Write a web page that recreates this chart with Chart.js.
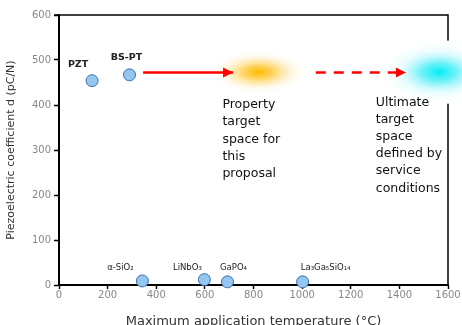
<!DOCTYPE html>
<html>
<head>
<meta charset="utf-8">
<script src="https://cdn.jsdelivr.net/npm/chart.js@4"></script>
<style>
  html, body { margin: 0; padding: 0; background: #fff; }
  #wrap { width: 462px; height: 325px; }
</style>
</head>
<body>
<div id="wrap"><canvas id="chart"></canvas></div>
<script>
// materials and their values
const materials = ['PZT', 'BS-PT', 'α-SiO₂', 'LiNbO₃', 'GaPO₄', 'La₃Ga₅SiO₁₄'];
const maxTemp = [136, 290, 343, 598, 693, 1002];
const piezoD = [454, 467, 9, 12, 7, 7];

const xTicks = [0, 200, 400, 600, 800, 1000, 1200, 1400, 1600];
const yTicks = [0, 100, 200, 300, 400, 500, 600];

// arrows and target blobs (data coords)
const arrowY = 472;
const solidArrowX = [346, 716];
const dashedArrowX = [1056, 1427];
const blobX = [821, 1563];
const blobY = [473, 473];

const proposalText = ['Property', 'target', 'space for', 'this', 'proposal'];
const proposalAt = [672, 400];
const ultimateText = ['Ultimate', 'target', 'space', 'defined by', 'service', 'conditions'];
const ultimateAt = [1303, 406];

// label offsets in px from each point
const labelOffsets = [[-14, -16], [-3, -17], [-22, -13], [-17, -12], [6, -14], [23, -14]];

const FONT = 'DejaVu Sans';

const extrasPlugin = {
  id: 'extras',
  beforeDatasetsDraw(chart) {
    const { ctx, chartArea: a, scales: { x, y } } = chart;
    ctx.save();
    // top and right frame
    ctx.strokeStyle = '#000';
    ctx.lineWidth = 1.5;
    ctx.beginPath();
    ctx.moveTo(a.left - 5, a.top);
    ctx.lineTo(a.right, a.top);
    ctx.lineTo(a.right, a.bottom);
    ctx.stroke();

    // glowing target blobs
    const blobs = [
      { rx: 50, ry: 22, c0: 'rgba(255,185,0,1)', c1: 'rgba(255,195,30,0.7)', c2: 'rgba(255,215,120,0.25)', white: false },
      { rx: 60, ry: 32, c0: 'rgba(0,238,245,1)', c1: 'rgba(40,235,245,0.65)', c2: 'rgba(170,245,250,0.25)', white: true }
    ];
    blobs.forEach((b, i) => {
      const cx = x.getPixelForValue(blobX[i]);
      const cy = y.getPixelForValue(blobY[i]);
      ctx.save();
      ctx.translate(cx, cy);
      ctx.scale(b.rx / b.ry, 1);
      if (b.white) {
        ctx.fillStyle = '#fff';
        ctx.beginPath();
        ctx.arc(0, 0, b.ry, 0, Math.PI * 2);
        ctx.fill();
      }
      const g = ctx.createRadialGradient(0, 0, 0, 0, 0, b.ry);
      g.addColorStop(0, b.c0);
      g.addColorStop(0.3, b.c1);
      g.addColorStop(0.65, b.c2);
      g.addColorStop(1, 'rgba(255,255,255,0)');
      ctx.fillStyle = g;
      ctx.beginPath();
      ctx.arc(0, 0, b.ry, 0, Math.PI * 2);
      ctx.fill();
      ctx.restore();
    });
    ctx.restore();
  },
  afterDatasetsDraw(chart) {
    const { ctx, scales: { x, y } } = chart;
    ctx.save();
    // arrow heads
    [solidArrowX, dashedArrowX].forEach(xs => {
      const tx = x.getPixelForValue(xs[1]);
      const ty = y.getPixelForValue(arrowY);
      ctx.fillStyle = '#f00';
      ctx.beginPath();
      ctx.moveTo(tx, ty);
      ctx.lineTo(tx - 10, ty - 5);
      ctx.lineTo(tx - 10, ty + 5);
      ctx.closePath();
      ctx.fill();
    });

    // point labels
    ctx.fillStyle = '#222';
    ctx.textAlign = 'center';
    ctx.textBaseline = 'middle';
    materials.forEach((m, i) => {
      const px = x.getPixelForValue(maxTemp[i]);
      const py = y.getPixelForValue(piezoD[i]);
      ctx.font = (i < 2 ? 'bold 9.5px ' : '8.5px ') + FONT;
      ctx.fillText(m, px + labelOffsets[i][0], py + labelOffsets[i][1]);
    });

    // annotation blocks
    ctx.fillStyle = '#111';
    ctx.textAlign = 'left';
    ctx.textBaseline = 'middle';
    ctx.font = '12.5px ' + FONT;
    [[proposalText, proposalAt], [ultimateText, ultimateAt]].forEach(([lines, at]) => {
      const lx = x.getPixelForValue(at[0]);
      const ly = y.getPixelForValue(at[1]);
      lines.forEach((t, k) => ctx.fillText(t, lx, ly + k * 17.2));
    });
    ctx.restore();
  }
};

new Chart(document.getElementById('chart'), {
  type: 'scatter',
  data: {
    datasets: [
      {
        label: 'solid arrow',
        data: solidArrowX.map(v => ({ x: v, y: arrowY })),
        showLine: true,
        borderColor: '#f00',
        borderWidth: 2.5,
        pointRadius: 0
      },
      {
        label: 'dashed arrow',
        data: dashedArrowX.map(v => ({ x: v, y: arrowY })),
        showLine: true,
        borderColor: '#f00',
        borderWidth: 2.5,
        borderDash: [10, 8],
        pointRadius: 0
      },
      {
        label: 'materials',
        data: maxTemp.map((v, i) => ({ x: v, y: piezoD[i] })),
        pointRadius: 6,
        pointBackgroundColor: '#93c6f0',
        pointBorderColor: '#3f6fa8',
        pointBorderWidth: 1,
        clip: false
      }
    ]
  },
  options: {
    responsive: true,
    maintainAspectRatio: false,
    animation: false,
    layout: { padding: { top: 15, right: 14, left: 0, bottom: 0 } },
    plugins: { legend: { display: false }, tooltip: { enabled: false } },
    scales: {
      x: {
        type: 'linear',
        min: 0,
        max: 1600,
        afterBuildTicks: s => { s.ticks = xTicks.map(v => ({ value: v })); },
        afterFit: s => { s.height = 40; },
        ticks: { color: '#888', font: { family: FONT, size: 10 }, padding: 0, maxRotation: 0, callback: v => String(v) },
        grid: { drawOnChartArea: false, tickLength: 4, tickColor: '#000', tickWidth: 1.5 },
        border: { color: '#000', width: 2 },
        title: {
          display: true,
          text: 'Maximum application temperature (°C)',
          color: '#333',
          font: { family: FONT, size: 13 },
          padding: { top: 0, bottom: -4 }
        }
      },
      y: {
        min: 0,
        max: 600,
        afterBuildTicks: s => { s.ticks = yTicks.map(v => ({ value: v })); },
        afterFit: s => { s.width = 59; },
        ticks: { color: '#888', font: { family: FONT, size: 10 }, padding: 3, callback: v => String(v) },
        grid: { drawOnChartArea: false, tickLength: 5, tickColor: '#000', tickWidth: 1.5 },
        border: { color: '#000', width: 2 },
        title: {
          display: true,
          text: 'Piezoelectric coefficient d (pC/N)',
          color: '#333',
          font: { family: FONT, size: 11 },
          padding: { top: 5, bottom: 0 }
        }
      }
    }
  },
  plugins: [extrasPlugin]
});
</script>
</body>
</html>
